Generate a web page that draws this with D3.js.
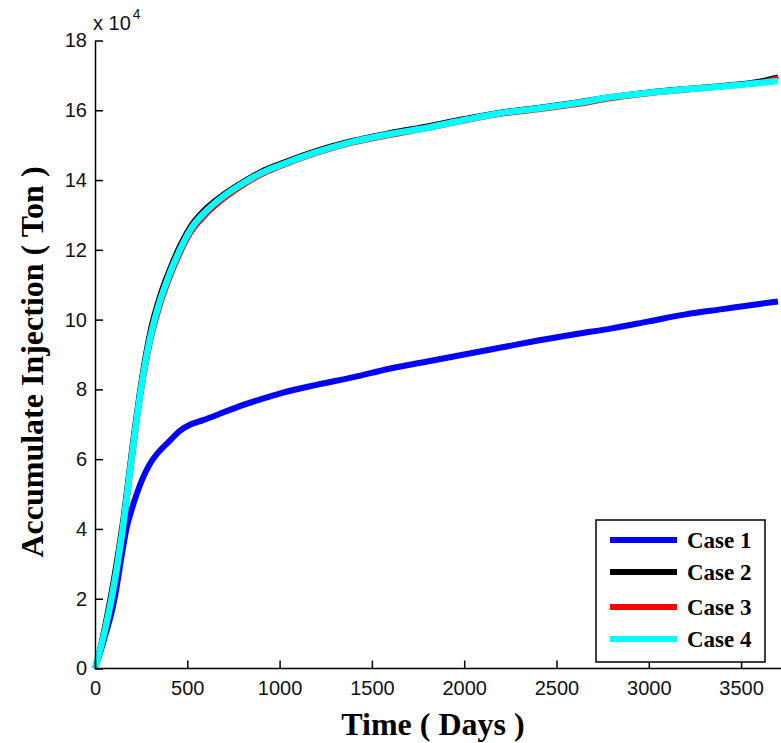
<!DOCTYPE html>
<html>
<head>
<meta charset="utf-8">
<script src="https://cdn.jsdelivr.net/npm/d3@7"></script>
<style>
  html, body { margin: 0; padding: 0; background: #fff; }
  svg { display: block; }
  .tick text { font-family: "Liberation Sans", Arial, sans-serif; font-size: 20px; fill: #111; }
</style>
</head>
<body>
<svg id="chart" width="781" height="743"></svg>
<script>
// Time sampling (days) shared by cases 2-4
const days = [0, 50, 100, 150, 200, 250, 300, 350, 400, 460, 520, 600, 700, 800, 900, 1000,
  1200, 1400, 1600, 1800, 2000, 2200, 2400, 2600, 2800, 3000, 3200, 3400, 3600, 3700];

// Time sampling (days) for case 1
const daysCase1 = [0, 50, 100, 117, 145, 172, 200, 226, 260, 298, 352, 400, 461, 520, 586, 700, 800, 900, 1000,
  1200, 1400, 1600, 1800, 2000, 2200, 2400, 2600, 2800, 3000, 3200, 3400, 3600, 3700];

// Accumulated injection, in units of 10^4 ton
const case1 = [0, 0.85, 1.85, 2.33, 3.25, 4.05, 4.58, 5.0, 5.47, 5.87, 6.25, 6.5, 6.82, 7.0, 7.12, 7.35, 7.55, 7.72, 7.88,
  8.13, 8.35, 8.6, 8.8, 9.0, 9.2, 9.4, 9.58, 9.75, 9.95, 10.15, 10.3, 10.45, 10.52];
const case2 = [0, 1.2, 2.6, 4.3, 6.4, 8.3, 9.75, 10.7, 11.42, 12.15, 12.72, 13.2, 13.62, 13.96, 14.26, 14.48,
  14.86, 15.15, 15.37, 15.56, 15.77, 15.96, 16.09, 16.24, 16.4, 16.53, 16.63, 16.72, 16.84, 16.96];
const case3 = [0, 0.85, 2.1, 3.75, 5.8, 7.8, 9.28, 10.3, 11.08, 11.85, 12.47, 12.98, 13.45, 13.82, 14.13, 14.36,
  14.75, 15.05, 15.27, 15.46, 15.68, 15.87, 16.0, 16.14, 16.32, 16.46, 16.56, 16.66, 16.8, 16.95];
const case4 = [0, 1.0, 2.3, 4.0, 6.1, 8.05, 9.5, 10.5, 11.25, 12.0, 12.6, 13.1, 13.55, 13.9, 14.2, 14.42,
  14.8, 15.1, 15.32, 15.5, 15.72, 15.92, 16.05, 16.2, 16.38, 16.5, 16.6, 16.68, 16.78, 16.84];

const seriesNames = ["Case 1", "Case 2", "Case 3", "Case 4"];
const seriesColors = ["#0000ff", "#000000", "#ff0000", "#00ffff"];
const seriesWidths = [6, 4.5, 4, 6.5];

const xTicks = [0, 500, 1000, 1500, 2000, 2500, 3000, 3500];
const yTicks = [0, 2, 4, 6, 8, 10, 12, 14, 16, 18];

const series = [
  { name: seriesNames[0], t: daysCase1, v: case1 },
  { name: seriesNames[1], t: days, v: case2 },
  { name: seriesNames[2], t: days, v: case3 },
  { name: seriesNames[3], t: days, v: case4 }
];

const svg = d3.select("#chart");
const plotLeft = 95, plotRight = 778, plotTop = 40.5, plotBottom = 668.5;

const x = d3.scaleLinear().domain([0, 3700]).range([plotLeft, plotRight]);
const y = d3.scaleLinear().domain([0, 18]).range([plotBottom, plotTop]);

// Curves
const line = d3.line()
  .x(d => x(d[0]))
  .y(d => y(d[1]))
  .curve(d3.curveMonotoneX);

svg.append("g").selectAll("path")
  .data(series)
  .join("path")
  .attr("d", s => line(s.t.map((t, i) => [t, s.v[i]])))
  .attr("fill", "none")
  .attr("stroke", (s, i) => seriesColors[i])
  .attr("stroke-width", (s, i) => seriesWidths[i])
  .attr("stroke-linejoin", "round");

// Axes (inward ticks)
const xAxis = svg.append("g")
  .attr("transform", `translate(0,${plotBottom})`)
  .call(d3.axisBottom(x).tickValues(xTicks).tickFormat(d3.format("d"))
    .tickSizeInner(-8).tickSizeOuter(0).tickPadding(12));
const yAxis = svg.append("g")
  .attr("transform", `translate(${plotLeft},0)`)
  .call(d3.axisLeft(y).tickValues(yTicks).tickFormat(d3.format("d"))
    .tickSizeInner(-8).tickSizeOuter(0).tickPadding(8));

[xAxis, yAxis].forEach(g => {
  g.select(".domain").attr("stroke", "#000").attr("stroke-width", 1.5);
  g.selectAll(".tick line").attr("stroke", "#000").attr("stroke-width", 1.5);
  g.attr("font-family", null).attr("font-size", null);
});
xAxis.select(".domain").attr("d", `M${plotLeft},0H781`);

// Exponent marker
const expo = svg.append("text")
  .attr("x", 93).attr("y", 30)
  .attr("font-family", "Liberation Sans, Arial, sans-serif")
  .attr("font-size", 20).attr("fill", "#111");
expo.append("tspan").text("x 10");
expo.append("tspan").attr("font-size", 14).attr("dy", -11).attr("dx", 2).text("4");

// Axis titles
svg.append("text")
  .attr("x", 433).attr("y", 735)
  .attr("text-anchor", "middle")
  .attr("font-family", "Liberation Serif, Times New Roman, serif")
  .attr("font-weight", "bold").attr("font-size", 32)
  .text("Time ( Days )");

svg.append("text")
  .attr("transform", "translate(43,362) rotate(-90)")
  .attr("text-anchor", "middle")
  .attr("font-family", "Liberation Serif, Times New Roman, serif")
  .attr("font-weight", "bold").attr("font-size", 32)
  .text("Accumulate Injection ( Ton )");

// Legend
const legend = svg.append("g").attr("transform", "translate(596,520)");
legend.append("rect")
  .attr("width", 169).attr("height", 142)
  .attr("fill", "#fff").attr("stroke", "#000").attr("stroke-width", 1.5);
const rowY = [20, 52, 87, 119];
const rows = legend.selectAll("g.row")
  .data(seriesNames)
  .join("g").attr("class", "row")
  .attr("transform", (d, i) => `translate(0,${rowY[i]})`);
rows.append("line")
  .attr("x1", 14).attr("x2", 81)
  .attr("stroke", (d, i) => seriesColors[i])
  .attr("stroke-width", 6);
rows.append("text")
  .attr("x", 91).attr("y", 8)
  .attr("font-family", "Liberation Serif, Times New Roman, serif")
  .attr("font-weight", "bold").attr("font-size", 23)
  .text(d => d);
</script>
</body>
</html>
